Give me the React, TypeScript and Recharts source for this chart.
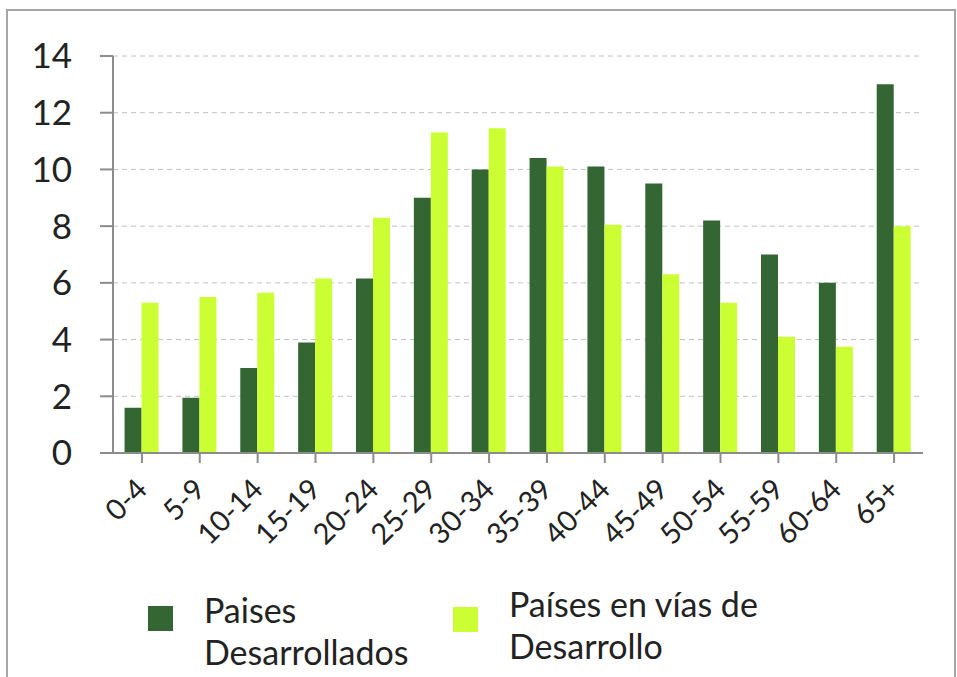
import { BarChart, Bar, XAxis, YAxis, CartesianGrid, Legend } from "recharts";

const grupos = ["0-4", "5-9", "10-14", "15-19", "20-24", "25-29", "30-34", "35-39", "40-44", "45-49", "50-54", "55-59", "60-64", "65+"];
const desarrollados = [1.6, 1.95, 3.0, 3.9, 6.15, 9.0, 10.0, 10.4, 10.1, 9.5, 8.2, 7.0, 6.0, 13.0];
const enDesarrollo = [5.3, 5.5, 5.65, 6.15, 8.3, 11.3, 11.45, 10.1, 8.05, 6.3, 5.3, 4.1, 3.75, 8.0];
const yTicks = [0, 2, 4, 6, 8, 10, 12, 14];

const OSCURO = "#336633";
const CLARO = "#ccff33";
const FONT = "Lato, 'Open Sans', sans-serif";

const data = grupos.map((g, i) => ({
  grupo: g,
  desarrollados: desarrollados[i],
  enDesarrollo: enDesarrollo[i],
}));

function XTick({ x, y, payload }: any) {
  return (
    <g transform={`translate(${x + 7},${y})`}>
      <text x={0} y={0} dy={28} textAnchor="end" transform="rotate(-45 0 28)" fontSize={29} fill="#222" fontFamily={FONT}>
        {payload.value}
      </text>
    </g>
  );
}

function Leyenda() {
  const item = (color: string, lineas: string[], left: number, top: number, boxTop: number) => (
    <div style={{ position: "absolute", left, top }}>
      <div style={{ position: "absolute", left: 0, top: boxTop, width: 25, height: 25, background: color }} />
      <div style={{ position: "absolute", left: 56, top: 0, fontSize: 34, lineHeight: "42px", color: "#222", whiteSpace: "nowrap", fontFamily: FONT }}>
        {lineas.map((l) => (
          <div key={l}>{l}</div>
        ))}
      </div>
    </div>
  );
  return (
    <div style={{ position: "relative", width: 957, height: 97 }}>
      {item(OSCURO, ["Paises", "Desarrollados"], 148, 9, 17)}
      {item(CLARO, ["Países en vías de", "Desarrollo"], 453, 3, 24)}
    </div>
  );
}

export default function App() {
  return (
    <div style={{ position: "absolute", left: 0, top: 0, width: 957, height: 677, background: "#fff", overflow: "hidden" }}>
      <div style={{ position: "absolute", left: 6, top: 9, width: 946, height: 668, borderTop: "2px solid #a6a6a6", borderLeft: "2px solid #a6a6a6", borderRight: "2px solid #a6a6a6" }} />
      <BarChart
        width={957}
        height={677}
        data={data}
        margin={{ top: 56, right: 34, left: 0, bottom: 0 }}
        barCategoryGap="20%"
        barGap={0}
        style={{ position: "absolute", left: 0, top: 0 }}
      >
        <CartesianGrid vertical={false} stroke="#c0c0c0" strokeDasharray="5 4" />
        <XAxis
          dataKey="grupo"
          height={127}
          interval={0}
          tickSize={10}
          tickMargin={0}
          tick={<XTick />}
          axisLine={{ stroke: "#8c8c8c", strokeWidth: 2 }}
          tickLine={{ stroke: "#8c8c8c", strokeWidth: 2 }}
        />
        <YAxis
          width={113}
          domain={[0, 14]}
          ticks={yTicks}
          tickSize={13}
          tickMargin={28}
          tick={{ fontSize: 35, fill: "#222", fontFamily: FONT }}
          axisLine={{ stroke: "#8c8c8c", strokeWidth: 2 }}
          tickLine={{ stroke: "#8c8c8c", strokeWidth: 2 }}
        />
        <Legend verticalAlign="bottom" height={97} content={() => <Leyenda />} wrapperStyle={{ left: 0, bottom: 0, width: 957 }} />
        <Bar dataKey="desarrollados" name="Paises Desarrollados" fill={OSCURO} isAnimationActive={false} />
        <Bar dataKey="enDesarrollo" name="Países en vías de Desarrollo" fill={CLARO} isAnimationActive={false} />
      </BarChart>
    </div>
  );
}
